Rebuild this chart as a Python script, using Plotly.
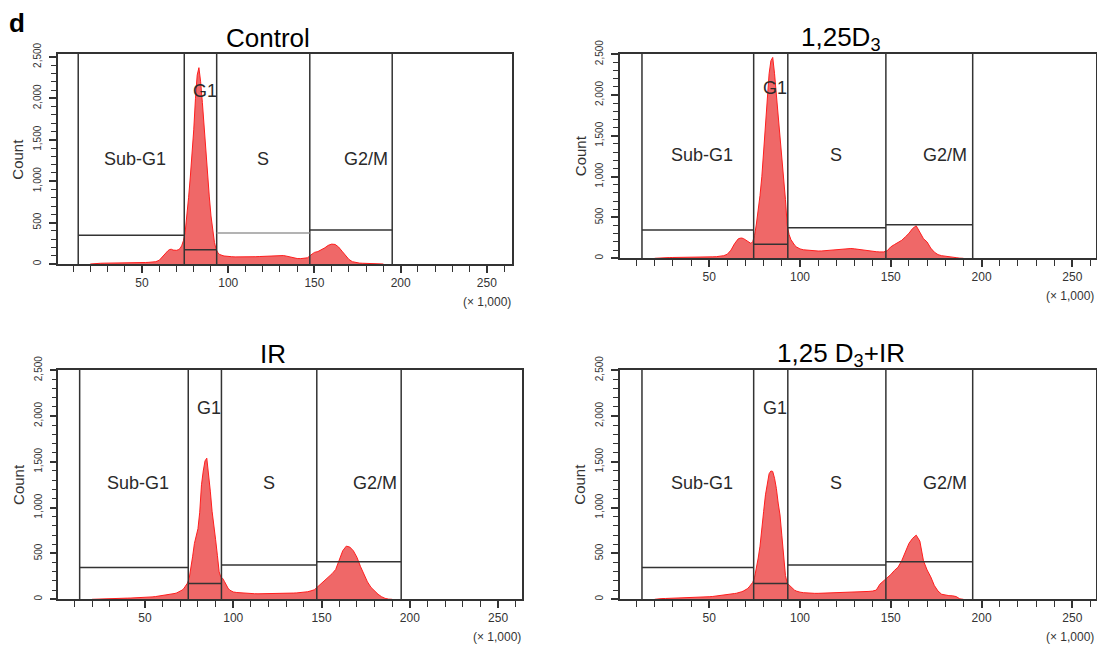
import plotly.graph_objects as go

# DNA content channel (x 1,000) used as histogram bins
bins = [20, 22, 24, 26, 28, 30, 32, 34, 36, 38, 40, 42, 44, 46, 48, 50, 52, 54, 56, 58, 60, 62, 64,
        65, 66, 67, 68, 69, 70, 71, 72, 73, 74, 75, 76, 77, 78, 79, 80, 81, 82,
        83, 84, 85, 86, 87, 88, 89, 90, 91, 92, 93, 94, 95, 96, 97, 98, 99, 100,
        102, 104, 106, 108, 110, 112, 114, 116, 118, 120, 122, 124, 126, 128, 130,
        132, 134, 136, 138, 140, 142, 144, 146, 148, 150, 152, 154, 156, 158, 160,
        162, 164, 166, 168, 170, 172, 174, 176, 178, 180, 182, 184, 186, 188, 190]

# cell counts
control = [0, 0, 8, 9, 10, 10, 10, 11, 11, 12, 12, 13, 13, 14, 15, 16, 18, 20, 22, 28, 45, 95, 145,
           160, 175, 178, 168, 162, 165, 172, 185, 220, 280, 380, 560, 800, 1050, 1300, 1620, 2000, 2280,
           2370, 2200, 1950, 1650, 1350, 1080, 820, 580, 390, 260, 175, 135, 115, 105, 100, 96, 92, 90,
           88, 86, 85, 84, 84, 86, 86, 88, 90, 92, 95, 98, 100, 104, 106,
           102, 94, 82, 72, 66, 65, 68, 75, 110, 140, 150, 168, 195, 225, 240,
           236, 205, 155, 100, 55, 28, 16, 11, 9, 7, 6, 5, 4, 2, 0]

d3 = [0, 0, 6, 8, 9, 10, 10, 11, 11, 12, 12, 13, 14, 15, 16, 17, 18, 20, 24, 32, 50, 100, 180,
      215, 238, 246, 248, 240, 225, 205, 188, 182, 205, 280, 420, 570, 770, 1000, 1300, 1680, 2020,
      2260, 2420, 2460, 2260, 2000, 1750, 1530, 1320, 1060, 720, 400, 290, 230, 190, 162, 140, 125, 115,
      104, 98, 93, 90, 89, 90, 94, 99, 104, 108, 112, 117, 121, 120, 116,
      109, 103, 98, 92, 86, 81, 78, 78, 92, 140, 168, 195, 220, 262, 306,
      365, 398, 320, 240, 200, 125, 75, 45, 32, 28, 22, 15, 8, 2, 0]

ir = [0, 2, 5, 6, 7, 8, 9, 10, 11, 12, 13, 14, 15, 16, 18, 20, 23, 26, 30, 35, 40, 46, 54,
      57, 60, 64, 70, 78, 86, 100, 118, 145, 175, 225, 330, 470, 610, 700, 770, 950, 1250,
      1400, 1510, 1540, 1390, 1180, 960, 770, 650, 480, 300, 240, 228, 195, 155, 122, 100, 88, 80,
      74, 70, 66, 64, 62, 61, 60, 60, 61, 62, 62, 63, 64, 65, 66,
      67, 68, 70, 72, 76, 82, 92, 105, 140, 175, 200, 235, 280, 325, 420,
      530, 580, 570, 530, 460, 360, 270, 190, 130, 90, 55, 28, 10, 2, 0]

d3_ir = [0, 0, 8, 9, 10, 11, 12, 13, 14, 15, 17, 19, 21, 23, 26, 28, 31, 35, 39, 44, 50, 56, 63,
         66, 70, 76, 83, 92, 101, 115, 135, 158, 185, 240, 330, 450, 580, 800, 960, 1140, 1270,
         1370, 1400, 1395, 1320, 1210, 1050, 920, 700, 440, 260, 175, 155, 135, 115, 100, 90, 83, 78,
         72, 68, 66, 65, 65, 66, 67, 68, 70, 71, 73, 74, 76, 77, 78,
         80, 81, 83, 86, 90, 100, 165, 200, 225, 270, 315, 350, 420, 520, 610,
         665, 700, 635, 420, 320, 245, 150, 90, 55, 45, 40, 38, 30, 5, 0]

titles = ["Control", "1,25D<sub>3</sub>", "IR", "1,25 D<sub>3</sub>+IR"]
gate_names = ["Sub-G1", "G1", "S", "G2/M"]
gate_edges = [13, 74.5, 93.3, 147.3, 195.1]
gate_heights = [348, 173, 373, 410]

# layout: pixel positions on the 1105x655 page; the page body adds an 8px margin
W, H = 1105, 655
OFF = 8
FW, FH = W - 2 * OFF, H - 2 * OFF
boxes = [(57.7, 54, 511.7, 264), (620, 54, 1096, 258.3),
         (58.3, 370, 521.6, 599.3), (620, 370, 1096, 599.3)]
xranges = [(1.1, 264.4), (0.9, 263), (0.9, 263.3), (0.9, 263)]
ytops = [2535, 2502, 2502, 2502]
label_pos = [(46, 1270), (86.5, 2090), (120, 1270), (180, 1270)]


def px(x):
    return (x - OFF) / FW


def py(y):
    return 1 - (y - OFF) / FH


FONT = "Liberation Sans, Arial, sans-serif"
LINE = "#333333"

fig = go.Figure()
annotations = []
shapes = []


def note(x, y, text, size, color="#333", xanchor="center", **kw):
    annotations.append(dict(x=px(x), y=py(y), xref="paper", yref="paper", text=text,
                            showarrow=False, xanchor=xanchor, yanchor="middle",
                            font=dict(family=FONT, size=size, color=color), **kw))


for i, counts in enumerate([control, d3, ir, d3_ir]):
    n = "" if i == 0 else str(i + 1)
    xa, ya = "x" + n, "y" + n
    l, t, r, b = boxes[i]

    fig.add_trace(go.Scatter(x=bins, y=counts, xaxis=xa, yaxis=ya, mode="lines",
                             fill="tozeroy", fillcolor="rgba(236, 78, 78, 0.85)",
                             line=dict(color="#ff1e1e", width=1),
                             hoverinfo="skip", showlegend=False))

    fig.update_layout(**{
        "xaxis" + n: dict(domain=[px(l), px(r)], range=list(xranges[i]), anchor=ya,
                          automargin=False,
                          showline=True, linecolor=LINE, linewidth=1.5, mirror=True,
                          showgrid=False, zeroline=False,
                          ticks="outside", ticklen=7, tickwidth=1.6, tickcolor=LINE,
                          tick0=0, dtick=50,
                          minor=dict(dtick=10, ticks="outside", ticklen=6, tickwidth=1.3,
                                     tickcolor=LINE, showgrid=False),
                          tickfont=dict(family=FONT, size=12, color="#333")),
        "yaxis" + n: dict(domain=[py(b), py(t)], range=[0, ytops[i]], anchor=xa,
                          automargin=False,
                          showline=True, linecolor=LINE, linewidth=1.5, mirror=True,
                          showgrid=False, zeroline=False,
                          ticks="outside", ticklen=7, tickwidth=1.5, tickcolor=LINE,
                          tick0=0, dtick=500, tickformat=",d", tickangle=-90,
                          ticklabelstandoff=4,
                          minor=dict(dtick=100, ticks="outside", ticklen=5, tickwidth=1.2,
                                     tickcolor=LINE, showgrid=False),
                          tickfont=dict(family=FONT, size=10, color="#333")),
    })

    # interval gates
    for e in gate_edges:
        shapes.append(dict(type="line", xref=xa, yref=ya + " domain", x0=e, x1=e, y0=0, y1=1,
                           line=dict(color=LINE, width=1.5), layer="above"))
    for j in range(4):
        col = "#9a9a9a" if (i == 0 and j == 2) else LINE
        shapes.append(dict(type="line", xref=xa, yref=ya, x0=gate_edges[j], x1=gate_edges[j + 1],
                           y0=gate_heights[j], y1=gate_heights[j],
                           line=dict(color=col, width=1.5), layer="above"))
    for j, name in enumerate(gate_names):
        annotations.append(dict(x=label_pos[j][0], y=label_pos[j][1], xref=xa, yref=ya,
                                text=name, showarrow=False, xanchor="center", yanchor="middle",
                                font=dict(family=FONT, size=18, color="#2a2a2a")))

    # panel title, axis title, scale note
    note((l + r) / 2 - 17, t - 16, titles[i], 26, color="black")
    note(l - 40, (t + b) / 2, "Count", 15, textangle=-90)
    note(min(r + 1, W - OFF - 1), b + 38, "(× 1,000)", 12, xanchor="right")

note(17, 23, "<b>d</b>", 26, color="black")

fig.update_layout(width=FW, height=FH, margin=dict(l=0, r=0, t=0, b=0),
                  paper_bgcolor="white", plot_bgcolor="white",
                  annotations=annotations, shapes=shapes)

fig.write_html("out.html")
